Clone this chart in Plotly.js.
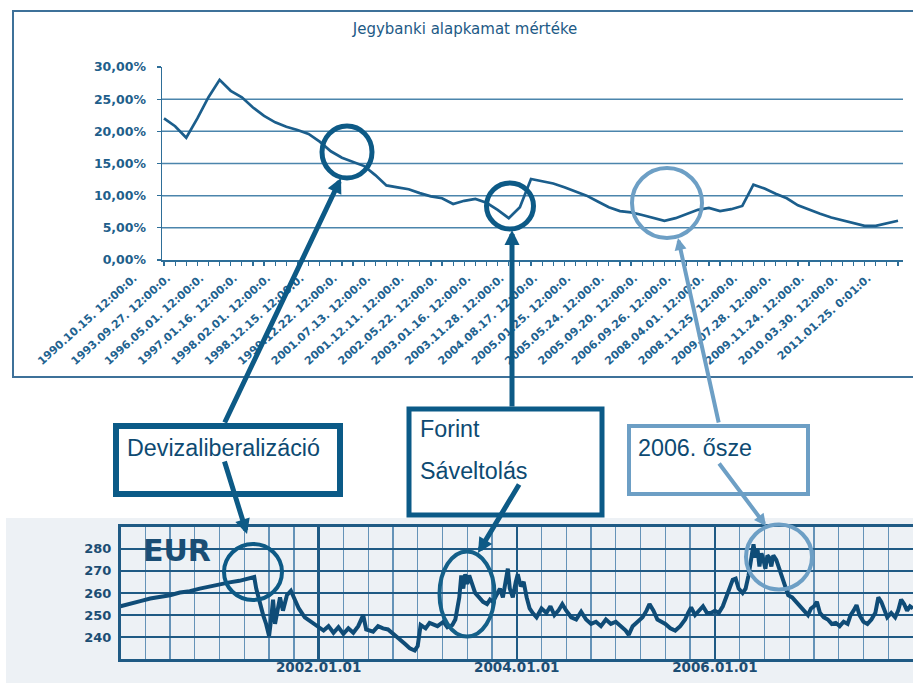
<!DOCTYPE html>
<html>
<head>
<meta charset="utf-8">
<script src="https://cdn.plot.ly/plotly-3.0.1.min.js"></script>
<style>html,body{margin:0;padding:0;background:#fff;}#chart{width:913px;height:683px;}</style>
</head>
<body>
<div id="chart"></div>
<script>
// ---------- DATA ----------
// Top chart: central bank base rate (%), one value per category position
const rates = [22.0,20.8,19.0,22.0,25.3,28.0,26.3,25.3,23.7,22.4,21.4,20.7,20.2,19.6,18.4,16.9,15.9,15.2,14.6,13.2,
               11.6,11.3,11.0,10.4,9.9,9.6,8.7,9.2,9.5,8.9,7.8,6.5,8.2,12.6,12.3,11.9,11.3,10.7,10.0,9.1,
               8.2,7.6,7.4,7.0,6.5,6.1,6.5,7.1,7.8,8.1,7.6,7.9,8.4,11.7,11.1,10.3,9.6,8.5,7.8,7.2,
               6.6,6.2,5.8,5.3,5.3,5.7,6.1];
// category tick labels (every third category carries a label)
const rateLabels = ["1990.10.15. 12:00:0.","1993.09.27. 12:00:0.","1996.05.01. 12:00:0.","1997.01.16. 12:00:0.",
  "1998.02.01. 12:00:0.","1998.12.15. 12:00:0.","1999.12.22. 12:00:0.","2001.07.13. 12:00:0.",
  "2001.12.11. 12:00:0.","2002.05.22. 12:00:0.","2003.01.16. 12:00:0.","2003.11.28. 12:00:0.",
  "2004.08.17. 12:00:0.","2005.01.25. 12:00:0.","2005.05.24. 12:00:0.","2005.09.20. 12:00:0.",
  "2006.09.26. 12:00:0.","2008.04.01. 12:00:0.","2008.11.25. 12:00:0.","2009.07.28. 12:00:0.",
  "2009.11.24. 12:00:0.","2010.03.30. 12:00:0.","2011.01.25. 0:01:0."];
const rateLabelEvery = 3;
const rateTicks = [0,5,10,15,20,25,30];
const rateTickText = ["0,00%","5,00%","10,00%","15,00%","20,00%","25,00%","30,00%"];
const rateGrid = [5,10,15,20,25];

// Bottom chart: EUR/HUF exchange rate (x in decimal years)
const eurYear = [2000.00,2000.10,2000.20,2000.30,2000.40,2000.50,2000.60,2000.70,2000.80,2000.90,
  2001.00,2001.10,2001.20,2001.30,2001.35,2001.37,2001.40,2001.44,2001.47,2001.50,2001.52,2001.54,2001.56,2001.58,
  2001.61,2001.64,2001.68,2001.72,2001.76,2001.80,2001.86,2001.92,2002.00,2002.05,2002.10,2002.15,2002.20,2002.25,
  2002.30,2002.35,2002.40,2002.45,2002.48,2002.55,2002.60,2002.65,2002.70,2002.76,2002.82,2002.87,2002.92,2002.97,
  2003.00,2003.03,2003.08,2003.12,2003.20,2003.26,2003.30,2003.35,2003.38,2003.42,2003.44,2003.46,2003.48,2003.50,
  2003.52,2003.55,2003.58,2003.62,2003.66,2003.70,2003.73,2003.76,2003.80,2003.83,2003.86,2003.89,2003.91,2003.93,
  2003.96,2003.99,2004.01,2004.04,2004.07,2004.10,2004.13,2004.16,2004.20,2004.25,2004.30,2004.34,2004.38,2004.42,
  2004.46,2004.50,2004.55,2004.60,2004.65,2004.70,2004.75,2004.80,2004.85,2004.90,2004.95,2005.00,2005.05,2005.10,
  2005.13,2005.17,2005.22,2005.27,2005.31,2005.34,2005.38,2005.42,2005.46,2005.50,2005.55,2005.60,2005.65,2005.70,
  2005.73,2005.76,2005.80,2005.84,2005.88,2005.92,2005.96,2006.00,2006.04,2006.08,2006.12,2006.15,2006.18,2006.21,
  2006.24,2006.28,2006.31,2006.34,2006.36,2006.39,2006.41,2006.43,2006.45,2006.47,2006.49,2006.51,2006.53,2006.55,
  2006.57,2006.59,2006.62,2006.65,2006.68,2006.71,2006.74,2006.78,2006.82,2006.86,2006.90,2006.94,2006.97,2007.00,
  2007.03,2007.06,2007.10,2007.14,2007.18,2007.22,2007.26,2007.30,2007.34,2007.37,2007.40,2007.43,2007.46,2007.50,
  2007.54,2007.58,2007.62,2007.65,2007.68,2007.71,2007.74,2007.78,2007.82,2007.85,2007.88,2007.91,2007.94,2007.97,2008.00];
const eurValue = [254.0,255.0,256.3,257.5,258.2,259.0,260.2,260.8,262.0,263.0,
  264.0,264.8,265.5,266.5,267.2,262.0,256.0,250.0,246.0,240.5,248.0,257.0,246.0,252.0,
  258.0,252.0,259.0,261.0,257.0,253.0,249.0,247.0,244.5,243.0,245.0,242.0,244.5,241.5,
  244.0,242.0,245.0,250.0,243.5,242.5,245.0,244.0,243.5,241.5,239.0,237.0,235.0,234.0,
  236.0,245.5,244.0,246.5,245.0,247.0,244.5,245.5,248.0,258.0,268.0,262.0,268.5,264.0,
  268.0,264.0,260.0,258.0,256.0,255.0,257.0,256.0,260.0,262.0,258.0,266.0,271.0,262.0,
  258.0,265.0,268.5,263.0,265.0,258.0,253.0,251.0,249.0,253.0,251.0,254.0,250.0,252.0,
  255.0,252.0,249.0,248.0,251.5,248.0,246.0,247.0,245.0,248.0,246.0,247.0,245.0,243.0,
  241.0,245.0,247.0,249.0,252.0,255.0,252.0,248.0,247.0,246.0,244.0,243.0,245.0,248.0,
  251.0,253.5,250.0,252.0,254.0,251.0,251.0,252.0,251.0,254.0,259.0,262.0,266.0,266.5,
  262.0,260.0,262.0,268.0,275.0,282.0,276.0,280.0,272.0,278.0,275.0,271.0,277.0,276.0,
  272.0,277.0,275.0,271.0,266.0,262.0,259.0,258.0,256.0,254.0,252.0,250.0,253.0,254.0,
  256.0,251.0,249.0,248.0,246.0,246.5,245.0,247.0,246.0,250.0,252.0,254.5,250.0,247.0,
  246.0,248.0,251.0,258.0,256.0,252.0,249.0,251.0,249.0,252.0,257.0,255.0,252.0,254.0,253.0];
const eurTickVals = [2002,2004,2006];
const eurTickText = ["2002.01.01","2004.01.01","2006.01.01"];
const eurYTicks = [240,250,260,270,280];

// ---------- LAYOUT HELPERS ----------
const W = 913, H = 683;
const px = x => x / W;
const py = y => 1 - y / H;

const rateIdx = rates.map((_, i) => i);
const rateTickText2 = rateIdx.map(i => (i % rateLabelEvery === 0 && rateLabels[i / rateLabelEvery]) ? rateLabels[i / rateLabelEvery] : "");

const dark = '#0d5a86', light = '#6d9fc5';

const traces = [
  {x: rateIdx, y: rates, xaxis: 'x', yaxis: 'y', type: 'scatter', mode: 'lines',
   line: {color: '#1b5e8c', width: 2.7}, hoverinfo: 'skip'},
  {x: eurYear, y: eurValue, xaxis: 'x2', yaxis: 'y2', type: 'scatter', mode: 'lines',
   line: {color: '#0f4c77', width: 4}, hoverinfo: 'skip'}
];

function circ(cx, cy, rx, ry, color, w) {
  return {type: 'circle', xref: 'paper', yref: 'paper', x0: px(cx - rx), x1: px(cx + rx),
          y0: py(cy + ry), y1: py(cy - ry), line: {color: color, width: w}, layer: 'above'};
}
function box(x0, y0, x1, y1, color, w) {
  return {type: 'rect', xref: 'paper', yref: 'paper', x0: px(x0), x1: px(x1), y0: py(y1), y1: py(y0),
          line: {color: color, width: w}, fillcolor: '#ffffff', layer: 'above'};
}
function arrow(tipx, tipy, tailx, taily, color, w) {
  return {xref: 'paper', yref: 'paper', x: px(tipx), y: py(tipy), ax: tailx - tipx, ay: taily - tipy,
          axref: 'pixel', ayref: 'pixel', text: '', showarrow: true, arrowhead: 2, arrowsize: 0.6,
          arrowwidth: w, arrowcolor: color, standoff: 0, startstandoff: 0};
}
function label(x, y, txt, size, color, fam, weight) {
  return {xref: 'paper', yref: 'paper', x: px(x), y: py(y), xanchor: 'left', yanchor: 'middle',
          text: txt, showarrow: false, font: {family: fam, size: size, color: color, weight: weight || 'normal'}};
}

const shapes = [
  // bottom panel background
  {type: 'rect', xref: 'paper', yref: 'paper', x0: px(6), x1: 1.01, y0: 0, y1: py(518),
   fillcolor: '#edf1f5', line: {width: 0}, layer: 'below'},
  // top chart frame
  {type: 'rect', xref: 'paper', yref: 'paper', x0: px(13), x1: px(918), y0: py(377), y1: py(11),
   line: {color: '#3e7199', width: 2}, layer: 'below'}
];
rateGrid.forEach(v => shapes.push({type: 'line', xref: 'x domain', yref: 'y', x0: 0, x1: 1, y0: v, y1: v,
  line: {color: '#4b85ac', width: 1.5}, layer: 'below'}));
shapes.push(
  circ(347, 152, 25, 26, dark, 5),
  circ(510, 206, 23.5, 23, dark, 5),
  circ(667, 203, 35, 35, light, 4),
  circ(253, 572, 29, 28, dark, 4),
  circ(467, 594, 27.5, 42.5, '#146089', 4),
  circ(779, 557, 33, 32.5, light, 4),
  box(116, 426, 340, 494, '#0b5a87', 6),
  box(409, 409, 602, 515, '#0b5a87', 5),
  box(629, 426, 808, 494, light, 4)
);

const annotations = [
  arrow(341, 178, 224, 424, dark, 5),
  arrow(512, 230, 512, 408, dark, 5),
  arrow(678, 238, 719, 424, light, 4),
  arrow(247, 534, 224, 460, dark, 5),
  arrow(478, 553, 520, 483, dark, 5),
  arrow(766, 526, 718, 462, light, 4),
  label(125, 448, 'Devizaliberalizáció', 23.3, '#0d4a72', 'Liberation Sans'),
  label(418, 429, 'Forint', 23.3, '#0d4a72', 'Liberation Sans'),
  label(418, 471, 'Sáveltolás', 23.3, '#0d4a72', 'Liberation Sans'),
  label(636, 448, '2006. ősze', 23.3, '#0d4a72', 'Liberation Sans'),
  label(141, 550, 'EUR', 30, '#1a4d74', 'DejaVu Sans', 'bold')
];

const layout = {
  width: W, height: H, autosize: false,
  margin: {l: 0, r: 0, t: 0, b: 0, pad: 0},
  paper_bgcolor: '#ffffff', plot_bgcolor: 'rgba(255,255,255,0)',
  showlegend: false,
  title: {text: 'Jegybanki alapkamat mértéke', xref: 'paper', yref: 'paper', x: px(465), y: py(29),
          xanchor: 'center', yanchor: 'middle', font: {family: 'DejaVu Sans', size: 15, color: '#1d5a86'}},
  xaxis: {domain: [px(162), px(903)], range: [-0.18, 66.45], anchor: 'y',
          tickmode: 'array', tickvals: rateIdx, ticktext: rateTickText2, tickangle: -42,
          ticklabelshift: -30, ticklabelstandoff: 2,
          ticks: 'outside', ticklen: 4, tickwidth: 1.2, tickcolor: '#2e6e98',
          showline: true, linecolor: '#2e6e98', linewidth: 1.5, showgrid: false, zeroline: false,
          tickfont: {family: 'DejaVu Sans', size: 11, color: '#1f6390', weight: 'bold'}, fixedrange: true},
  yaxis: {domain: [py(260), py(67)], range: [0, 30], anchor: 'x',
          tickmode: 'array', tickvals: rateTicks, ticktext: rateTickText,
          ticks: 'outside', ticklen: 4, tickwidth: 1.2, tickcolor: '#2e6e98', ticklabelstandoff: 8,
          showline: true, linecolor: '#2e6e98', linewidth: 1.5, showgrid: false, zeroline: false,
          tickfont: {family: 'DejaVu Sans', size: 12.5, color: '#1f5f8b', weight: 'bold'}, fixedrange: true},
  xaxis2: {domain: [px(120.5), 1], range: [2000, 2008], anchor: 'y2',
           tickmode: 'array', tickvals: eurTickVals, ticktext: eurTickText, ticks: '',
           showgrid: true, gridcolor: '#1f5a84', gridwidth: 2.5,
           minor: {tickmode: 'linear', tick0: 2000, dtick: 0.25, showgrid: true, gridcolor: '#6593b8', gridwidth: 1.3, ticks: ''},
           showline: true, mirror: true, linecolor: '#1f5a84', linewidth: 2.5, zeroline: false,
           ticklabelstandoff: -6,
           tickfont: {family: 'DejaVu Sans', size: 13.5, color: '#1c4d73', weight: 'bold'}, fixedrange: true},
  yaxis2: {domain: [py(659.3), py(526.7)], range: [230, 290], anchor: 'x2',
           tickmode: 'array', tickvals: eurYTicks, ticks: '',
           showgrid: true, gridcolor: '#1f5a84', gridwidth: 2.5,
           showline: true, linecolor: '#1f5a84', linewidth: 2.5, zeroline: false, ticklabelstandoff: 4,
           tickfont: {family: 'DejaVu Sans', size: 13, color: '#1c4d73', weight: 'bold'}, fixedrange: true},
  shapes: shapes,
  annotations: annotations
};

Plotly.newPlot('chart', traces, layout, {staticPlot: true, displayModeBar: false});
</script>
</body>
</html>
